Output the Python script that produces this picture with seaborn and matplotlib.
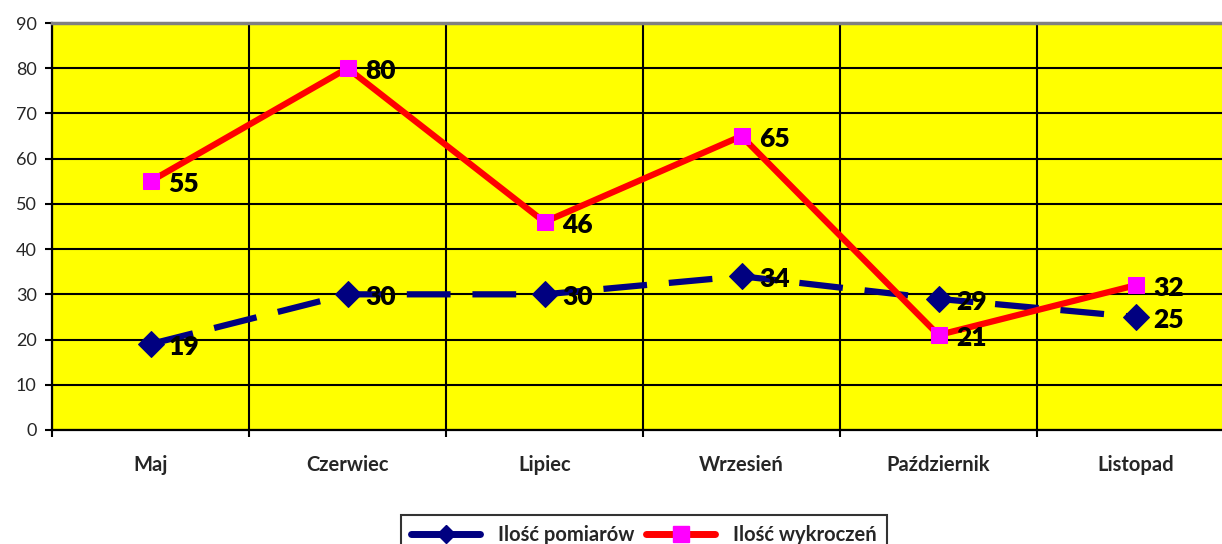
import numpy as np
import pandas as pd
import matplotlib
matplotlib.use("Agg")
import matplotlib.pyplot as plt
import seaborn as sns
from matplotlib.lines import Line2D

# data
months = ["Maj", "Czerwiec", "Lipiec", "Wrzesień", "Październik", "Listopad"]
pomiary = [19, 30, 30, 34, 29, 25]
wykroczenia = [55, 80, 46, 65, 21, 32]
yticks = list(range(0, 100, 10))

sns.set_theme(style="white")
plt.rcParams["font.family"] = ["Lato", "DejaVu Sans"]

df = pd.DataFrame({"pos": np.arange(len(months)), "miesiac": months,
                   "pomiary": pomiary, "wykroczenia": wykroczenia})

fig = plt.figure(figsize=(12.22, 5.44), dpi=100)
ax = fig.add_axes([52 / 1222, 1 - 430 / 544, 1182 / 1222, 407 / 544])
ax.set_facecolor("#FFFF00")

sns.lineplot(data=df, x="pos", y="pomiary", ax=ax, color="#000080",
             linewidth=4.5, linestyle=(0, (7, 3.5)), marker="D",
             markersize=13, markeredgecolor="#000080", zorder=3)
sns.lineplot(data=df, x="pos", y="wykroczenia", ax=ax, color="#FF0000",
             linewidth=4.5, marker="s", markersize=11.5,
             markerfacecolor="#FF00FF", markeredgecolor="#FF00FF", zorder=4)

for series in (pomiary, wykroczenia):
    for i, v in enumerate(series):
        ax.annotate(str(v), (i, v), xytext=(13, -2), textcoords="offset points",
                    ha="left", va="center", fontsize=19, fontweight="heavy",
                    color="black", zorder=5)

ax.set_xlim(-0.5, len(months) - 0.5)
ax.set_ylim(0, 90)
ax.set_yticks(yticks)
ax.set_xticks(np.arange(len(months) + 1) - 0.5)
ax.set_xticklabels([])
ax.set_xticks(np.arange(len(months)), minor=True)
ax.set_xticklabels(months, minor=True, fontsize=14.5, fontweight="bold")
ax.tick_params(axis="x", which="minor", length=0, pad=18)
ax.tick_params(axis="x", which="major", direction="out", length=5, width=1.5,
               color="black", bottom=True)
ax.tick_params(axis="y", direction="out", length=5, width=1.5, color="black",
               left=True, labelsize=13, pad=6)
ax.set_xlabel("")
ax.set_ylabel("")

ax.grid(True, which="major", color="black", linewidth=1.5, zorder=1)
ax.set_axisbelow(True)

for side in ("left", "bottom"):
    ax.spines[side].set_color("black")
    ax.spines[side].set_linewidth(1.6)
ax.spines["top"].set_color("#808080")
ax.spines["top"].set_linewidth(2.5)
ax.spines["right"].set_visible(False)

handles = [
    Line2D([], [], color="#000080", linewidth=5, marker="D", markersize=9,
           markeredgecolor="#000080"),
    Line2D([], [], color="#FF0000", linewidth=5, marker="s", markersize=11,
           markerfacecolor="#FF00FF", markeredgecolor="#FF00FF"),
]
leg = fig.legend(handles, ["Ilość pomiarów", "Ilość wykroczeń"],
                 loc="upper center", bbox_to_anchor=(644 / 1222, 1 - 505 / 544),
                 ncol=2, frameon=True, fancybox=False, handlelength=3.4,
                 columnspacing=0.6, handletextpad=0.9, borderpad=0.5,
                 prop={"weight": "bold", "size": 14.5})
leg.get_frame().set_edgecolor("black")
leg.get_frame().set_linewidth(1.5)

fig.savefig("out.png", dpi=100)
